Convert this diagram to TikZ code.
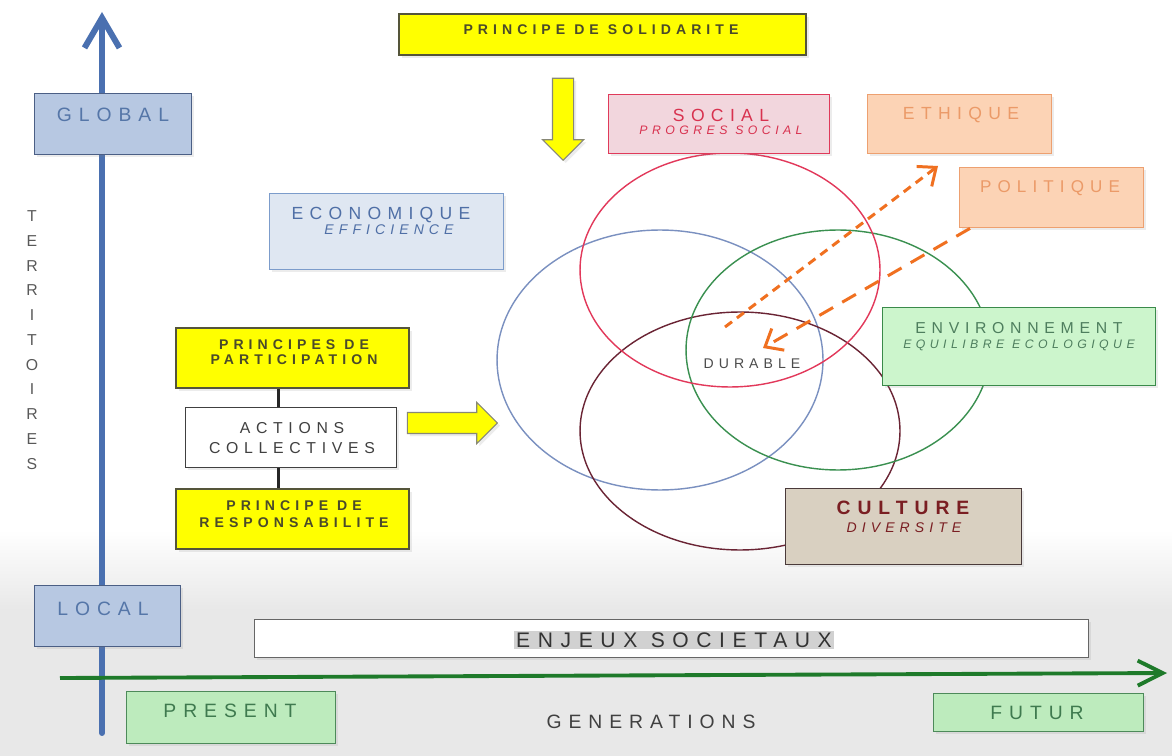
\documentclass[tikz,border=0pt]{standalone}
\usepackage{fontspec}
\setmainfont{Liberation Sans}[LetterSpace=36]
\usetikzlibrary{arrows.meta,shapes.arrows,shadows,positioning}

\definecolor{axeblue}{HTML}{4A70B0}
\definecolor{globfill}{HTML}{B7C8E2}
\definecolor{globline}{HTML}{4B5F85}
\definecolor{globtext}{HTML}{5576A8}
\definecolor{ecofill}{HTML}{DFE7F2}
\definecolor{ecoline}{HTML}{7C9CCB}
\definecolor{ecotext}{HTML}{4F6FA6}
\definecolor{jaune}{HTML}{FFFF00}
\definecolor{jauneline}{HTML}{55553A}
\definecolor{jaunetext}{HTML}{4A4A2A}
\definecolor{socfill}{HTML}{F2D6DD}
\definecolor{socline}{HTML}{E03A5A}
\definecolor{soctext}{HTML}{D8324F}
\definecolor{orfill}{HTML}{FCD3B5}
\definecolor{orline}{HTML}{EDA070}
\definecolor{ortext}{HTML}{EB9A68}
\definecolor{envfill}{HTML}{CCF5CC}
\definecolor{envline}{HTML}{3A8A4A}
\definecolor{envtext}{HTML}{4E7E5E}
\definecolor{culfill}{HTML}{D9D0C1}
\definecolor{culline}{HTML}{4A3A3A}
\definecolor{cultext}{HTML}{7A1E22}
\definecolor{tempfill}{HTML}{BDEBBD}
\definecolor{templine}{HTML}{4D8A5A}
\definecolor{temptext}{HTML}{3F7A4F}
\definecolor{ronred}{HTML}{E2385A}
\definecolor{ronblue}{HTML}{7A90C0}
\definecolor{rongreen}{HTML}{3A9050}
\definecolor{ronbrown}{HTML}{6A2434}
\definecolor{fleche}{HTML}{F07020}
\definecolor{axegreen}{HTML}{1E7A2A}

\tikzset{
  cadre/.style={draw, rectangle, line width=0.8pt, anchor=north west, inner sep=0pt,
    drop shadow={opacity=0.15, shadow xshift=1.5pt, shadow yshift=-1.5pt}},
  principe/.style={cadre, fill=jaune, draw=jauneline, line width=1.1pt},
  titre/.style={anchor=base, inner sep=0pt, font=\fontsize{10}{12}\selectfont},
  sous/.style={anchor=base, inner sep=0pt, font=\fontsize{7}{8}\selectfont\itshape},
  petit/.style={anchor=base, inner sep=0pt, align=center, text=jaunetext},
  rond/.style={line width=0.8pt},
  bloc/.style={single arrow, draw=jauneline!70, fill=jaune, line width=0.6pt, inner xsep=0pt, inner ysep=0.2cm,
    minimum width=0.8cm, single arrow head extend=0.2cm, single arrow tip angle=90,
    drop shadow={opacity=0.15, shadow xshift=1.5pt, shadow yshift=-1.5pt}},
  tiret/.style={draw=fleche, line width=1.7pt, -{Straight Barb[length=3mm,width=5mm]}}
}

\begin{document}
\begin{tikzpicture}[x=0.02cm, y=-0.02cm]
 \path[use as bounding box] (0,0) rectangle (1172,756);
 \fill[white] (0,0) rectangle (1172,756);
 \shade[top color=white, bottom color=black!9] (0,530) rectangle (1172,610);
 \fill[black!9] (0,610) rectangle (1172,756);

 \coordinate (basY) at (102,733);
 \coordinate (hautY) at (102,12);
 \coordinate (gaucheX) at (60,678);
 \coordinate (droiteX) at (1167,673);
 \draw[axeblue, line width=3.4pt, line cap=round, -{Straight Barb[length=6mm,width=7mm]}] (basY) -- (hautY);
 \draw[axegreen, line width=2.2pt, -{Straight Barb[length=5mm,width=5mm]}] (gaucheX) -- (droiteX);

 \node[align=center, inner sep=0pt, text=black!65, font=\fontsize{9}{14.1}\selectfont] (terr) at (32,340) {T\\E\\R\\R\\I\\T\\O\\I\\R\\E\\S};

 \draw[rond, draw=ronblue] (660,360) ellipse [x radius=3.26cm, y radius=2.6cm];
 \draw[rond, draw=ronbrown] (740,431) ellipse [x radius=3.2cm, y radius=2.38cm];
 \draw[rond, draw=rongreen] (838,350) ellipse [x radius=3.04cm, y radius=2.4cm];
 \draw[rond, draw=ronred] (730,270) ellipse [x radius=3cm, y radius=2.34cm];

 \node[cadre, fill=globfill, draw=globline, minimum width=3.14cm, minimum height=1.22cm] (global) at (34,93) {};
 \node[titre, text=globtext, font=\fontsize{11}{13}\selectfont] (tglobal) at (113,122) {GLOBAL};
 \node[cadre, fill=globfill, draw=globline, minimum width=2.92cm, minimum height=1.22cm] (local) at (34,585) {};
 \node[titre, text=globtext, font=\fontsize{11}{13}\selectfont] (tlocal) at (103,615) {LOCAL};

 \node[principe, minimum width=8.14cm, minimum height=0.82cm] (solidarite) at (398,13) {};
 \node[petit, font=\fontsize{8}{9}\selectfont\bfseries] (tsolidarite) at (601,35) {PRINCIPE DE SOLIDARITE};
 \node[bloc, rotate=-90, minimum height=1.64cm] (flechebas) at (563,114) {};

 \node[cadre, fill=socfill, draw=socline, minimum width=4.42cm, minimum height=1.18cm] (social) at (608,94) {};
 \node[titre, text=soctext] (tsocial) at (721,122) {SOCIAL};
 \node[sous, text=soctext] (tprogres) at (721,135) {PROGRES SOCIAL};

 \node[cadre, fill=orfill, draw=orline, minimum width=3.68cm, minimum height=1.18cm] (ethique) at (867,94) {};
 \node[titre, text=ortext] (tethique) at (961,120) {ETHIQUE};
 \node[cadre, fill=orfill, draw=orline, minimum width=3.68cm, minimum height=1.2cm] (politique) at (959,167) {};
 \node[titre, text=ortext, font=\fontsize{9.7}{12}\selectfont] (tpolitique) at (1050,193) {POLITIQUE};

 \node[cadre, fill=ecofill, draw=ecoline, minimum width=4.68cm, minimum height=1.52cm] (economique) at (269,193) {};
 \node[titre, text=ecotext] (teconomique) at (381,220) {ECONOMIQUE};
 \node[sous, text=ecotext, font=\fontsize{8}{9}\selectfont\itshape] (tefficience) at (389,235) {EFFICIENCE};

 \node[cadre, fill=envfill, draw=envline, minimum width=5.46cm, minimum height=1.56cm] (environnement) at (882,307) {};
 \node[titre, text=envtext, font=\fontsize{9}{11}\selectfont] (tenvironnement) at (1019,334) {ENVIRONNEMENT};
 \node[sous, text=envtext] (tequilibre) at (1019,349) {EQUILIBRE ECOLOGIQUE};

 \node[cadre, fill=culfill, draw=culline, minimum width=4.72cm, minimum height=1.52cm] (culture) at (785,488) {};
 \node[titre, text=cultext, font=\fontsize{11}{13}\selectfont\bfseries] (tculture) at (903,514) {CULTURE};
 \node[sous, text=cultext, font=\fontsize{8}{9}\selectfont\itshape] (tdiversite) at (904,532) {DIVERSITE};

 \node[anchor=base, inner sep=0pt, text=black!70, font=\fontsize{8}{9}\selectfont] (durable) at (752,369) {DURABLE};

 \node[principe, minimum width=4.66cm, minimum height=1.2cm] (participation) at (175,327) {};
 \node[petit, font=\fontsize{8}{9}\selectfont\bfseries] (tparticipation) at (294,365) {PRINCIPES DE\\PARTICIPATION};
 \node[cadre, fill=white, draw=black!75, minimum width=4.22cm, minimum height=1.2cm] (actions) at (185,407) {};
 \node[petit, text=black!75, font=\fontsize{9}{11.3}\selectfont] (tactions) at (292,453) {ACTIONS\\COLLECTIVES};
 \node[principe, minimum width=4.66cm, minimum height=1.2cm] (responsabilite) at (175,488) {};
 \node[petit, font=\fontsize{8}{9.6}\selectfont\bfseries] (tresponsabilite) at (294,527) {PRINCIPE DE\\RESPONSABILITE};
 \draw[line width=1.4pt, black!85] ([xshift=-0.28cm]participation.south) -- ([xshift=-0.28cm]participation.south |- actions.north);
 \draw[line width=1.4pt, black!85] ([xshift=-0.28cm]participation.south |- actions.south) -- ([xshift=-0.28cm]responsabilite.north);
 \node[bloc, minimum height=1.8cm] (flechedroite) at (447,423) {};

 \coordinate (durA) at (725,327);
 \coordinate (ethA) at (938,166);
 \coordinate (durB) at (763,348);
 \draw[tiret, dash pattern=on 5pt off 3.5pt] (durA) -- (ethA);
 \draw[tiret, dash pattern=on 9pt off 6pt] ([xshift=0.22cm]politique.south west) -- (durB);

 \node[cadre, fill=white, draw=black!60, minimum width=16.68cm, minimum height=0.76cm] (enjeux) at (254,619) {};
 \node[anchor=base, inner xsep=1pt, inner ysep=1pt, fill=black!18, text=black!80, font=\fontsize{12}{14}\selectfont] (tenjeux) at (674,647) {ENJEUX SOCIETAUX};

 \node[cadre, fill=tempfill, draw=templine, minimum width=4.18cm, minimum height=1.04cm] (present) at (126,691) {};
 \node[titre, text=temptext, font=\fontsize{11}{13}\selectfont] (tpresent) at (230,717) {PRESENT};
 \node[cadre, fill=tempfill, draw=templine, minimum width=4.2cm, minimum height=0.76cm] (futur) at (933,693) {};
 \node[titre, text=temptext, font=\fontsize{11}{13}\selectfont] (tfutur) at (1037,719) {FUTUR};
 \node[titre, text=black!75, font=\fontsize{11}{13}\selectfont] (generations) at (651,728) {GENERATIONS};
\end{tikzpicture}
\end{document}
